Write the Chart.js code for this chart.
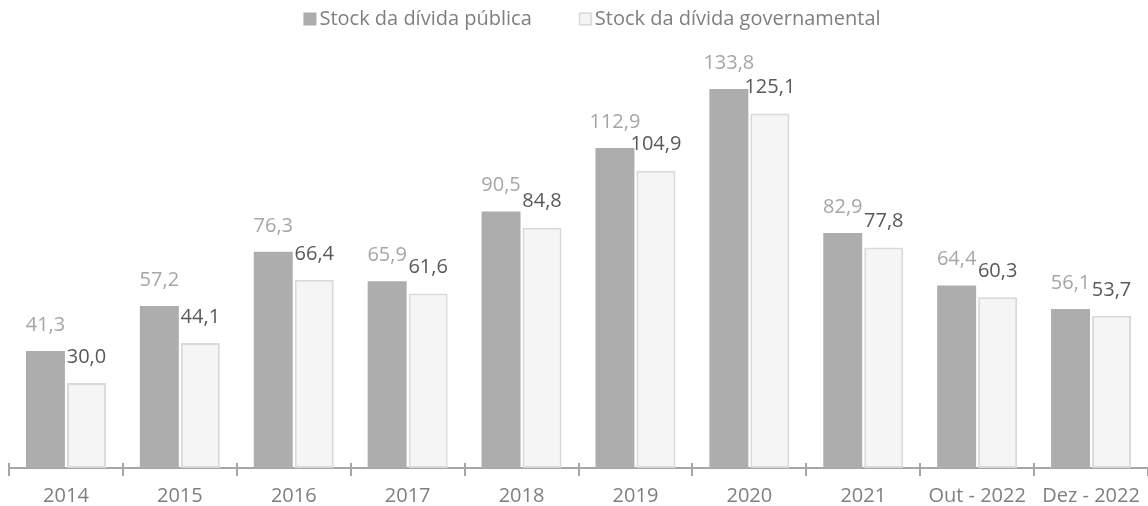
<!DOCTYPE html>
<html>
<head>
<meta charset="utf-8">
<script src="https://cdn.jsdelivr.net/npm/chart.js@4"></script>
<style>
  html, body { margin: 0; padding: 0; background: #fff; }
  #wrap { width: 1148px; height: 506px; }
</style>
</head>
<body>
<div id="wrap"><canvas id="debtChart"></canvas></div>
<script>
// categorias e valores (mil milhões)
const categorias = ['2014', '2015', '2016', '2017', '2018', '2019', '2020', '2021', 'Out - 2022', 'Dez - 2022'];
const dividaPublica = [41.3, 57.2, 76.3, 65.9, 90.5, 112.9, 133.8, 82.9, 64.4, 56.1];
const dividaGovernamental = [30.0, 44.1, 66.4, 61.6, 84.8, 104.9, 125.1, 77.8, 60.3, 53.7];

const FONTE = "'Open Sans', 'Noto Sans', sans-serif";

// rótulos por cima das barras, com vírgula decimal
const rotulosPlugin = {
    id: 'rotulos',
    afterDatasetsDraw(chart) {
        const ctx = chart.ctx;
        ctx.save();
        ctx.font = '20px ' + FONTE;
        ctx.textAlign = 'center';
        ctx.textBaseline = 'middle';
        chart.data.datasets.forEach(function (ds, i) {
            const meta = chart.getDatasetMeta(i);
            ctx.fillStyle = ds.labelColor;
            meta.data.forEach(function (bar, j) {
                const txt = ds.data[j].toFixed(1).replace('.', ',');
                ctx.fillText(txt, bar.x, bar.y - 26);
            });
        });
        ctx.restore();
    }
};

// legenda desenhada à mão (caixa colada ao texto, espaço largo entre itens)
const legendaPlugin = {
    id: 'legenda',
    afterDraw(chart) {
        const ctx = chart.ctx;
        const box = 13, gapTxt = 3, gapItem = 47, yMid = 19;
        ctx.save();
        ctx.font = '20px ' + FONTE;
        ctx.textBaseline = 'middle';
        const itens = chart.data.datasets.map(function (ds) {
            return { ds: ds, w: box + gapTxt + ctx.measureText(ds.label).width };
        });
        let total = itens.reduce(function (s, it) { return s + it.w; }, 0) + gapItem * (itens.length - 1);
        let x = 592 - total / 2;
        itens.forEach(function (it) {
            ctx.fillStyle = it.ds.backgroundColor;
            ctx.fillRect(x, yMid - box / 2, box, box);
            if (it.ds.borderWidth) {
                ctx.strokeStyle = it.ds.borderColor;
                ctx.lineWidth = 1.5;
                ctx.strokeRect(x + 0.75, yMid - box / 2 + 0.75, box - 1.5, box - 1.5);
            }
            ctx.fillStyle = '#7f7f7f';
            ctx.fillText(it.ds.label, x + box + gapTxt, yMid);
            x += it.w + gapItem;
        });
        ctx.restore();
    }
};

// marcas do eixo x que atravessam a linha do eixo
const marcasPlugin = {
    id: 'marcas',
    afterDraw(chart) {
        const xs = chart.scales.x;
        const ctx = chart.ctx;
        const passo = xs.width / categorias.length;
        ctx.save();
        ctx.strokeStyle = '#a6a6a6';
        ctx.lineWidth = 2;
        for (let i = 0; i < categorias.length; i++) {
            const px = Math.round(xs.left + passo * i);
            ctx.beginPath();
            ctx.moveTo(px, xs.top - 5);
            ctx.lineTo(px, xs.top);
            ctx.stroke();
        }
        ctx.restore();
    }
};

document.addEventListener('DOMContentLoaded', function () {
    var ctx = document.getElementById('debtChart').getContext('2d');
    new Chart(ctx, {
        type: 'bar',
        data: {
            labels: categorias,
            datasets: [{
                label: 'Stock da dívida pública',
                data: dividaPublica,
                backgroundColor: '#adadad',
                borderColor: '#adadad',
                borderWidth: 0,
                labelColor: '#a6a6a6',
                categoryPercentage: 0.72,
                barPercentage: 0.95
            }, {
                label: 'Stock da dívida governamental',
                data: dividaGovernamental,
                backgroundColor: '#f5f5f5',
                borderColor: '#d9d9d9',
                borderWidth: 2,
                borderSkipped: false,
                labelColor: '#595959',
                categoryPercentage: 0.72,
                barPercentage: 0.95
            }]
        },
        options: {
            responsive: true,
            maintainAspectRatio: false,
            animation: false,
            layout: { padding: { left: 9, right: 0, top: 43, bottom: -10 } },
            plugins: {
                legend: { display: false },
                tooltip: { enabled: false }
            },
            scales: {
                x: {
                    grid: {
                        offset: true,
                        drawOnChartArea: false,
                        drawTicks: true,
                        tickLength: 8,
                        color: '#a6a6a6',
                        lineWidth: 2
                    },
                    border: { color: '#a6a6a6', width: 2 },
                    ticks: {
                        color: '#7f7f7f',
                        padding: 8,
                        font: { family: FONTE, size: 20 }
                    }
                },
                y: {
                    display: false,
                    min: 0,
                    max: 150
                }
            }
        },
        plugins: [rotulosPlugin, legendaPlugin, marcasPlugin]
    });
});
</script>
</body>
</html>
